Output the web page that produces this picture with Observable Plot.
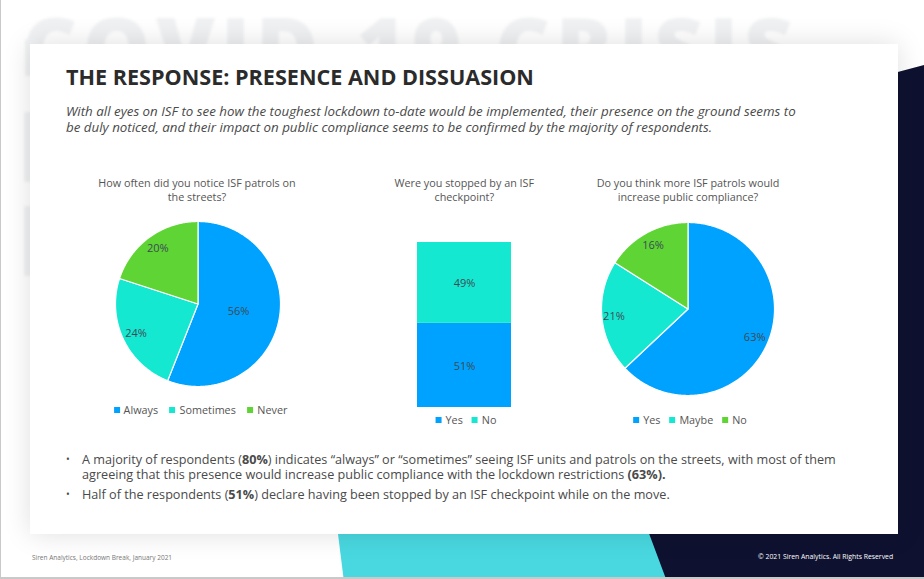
<!DOCTYPE html>
<html>
<head>
<meta charset="utf-8">
<script src="https://cdn.jsdelivr.net/npm/d3@7"></script>
<script src="https://cdn.jsdelivr.net/npm/@observablehq/plot@0.6"></script>
<style>
html,body{margin:0;padding:0;background:#fff;}
body{width:924px;height:579px;overflow:hidden;position:relative;font-family:"Open Sans",sans-serif;color:#444;}
.abs{position:absolute;white-space:nowrap;}
#frameL{left:0;top:0;width:1px;height:578px;background:#c9c9c9;}
#frameB{left:0;top:577px;width:924px;height:2px;background:#c9c9c9;}
#ghostclip{left:0;top:0;width:924px;height:44px;overflow:hidden;}
#ghost{left:22px;top:-12px;font-size:85px;font-weight:800;letter-spacing:5.6px;color:#f0f1f3;filter:blur(1.4px);}
.ghostbar{background:#f1f2f4;filter:blur(1.5px);}
#teal{left:0;top:0;width:924px;height:579px;background:#49d8e0;clip-path:polygon(333.8px 500px,650px 500px,666px 578px,343.5px 578px);}
#navy{left:0;top:0;width:924px;height:579px;background:#0e1230;clip-path:polygon(880px 76.8px,924px 65px,924px 579px,666px 579px,644px 520px,880px 520px);}
#card{left:30px;top:44px;width:868px;height:490px;background:#fff;box-shadow:0 0 26px rgba(0,0,0,.13);}
#title{left:66px;top:62px;font-size:21.6px;line-height:30px;font-weight:700;color:#2b2b2b;}
#sub{left:66px;top:102.5px;font-size:13.34px;line-height:16.8px;font-style:italic;color:#4a4a4a;}
.ctitle{font-size:10.8px;line-height:14px;color:#555;text-align:center;transform:translateX(-50%);}
.legend{font-size:10.8px;line-height:14px;color:#555;transform:translateX(-50%);display:flex;}
.legend span{display:flex;align-items:center;gap:4px;}
.legend i{display:inline-block;width:6px;height:6px;}
#bul{left:66px;top:451.7px;font-size:12.65px;line-height:15.8px;color:#4a4a4a;}
.li{position:relative;padding-left:16px;margin-bottom:3.5px;}
.li:before{content:"•";position:absolute;left:0;top:0;font-size:10px;}
#fl{left:32px;top:553px;font-size:6.5px;line-height:10px;color:#777;}
#fr{left:758px;top:552px;font-size:6.85px;line-height:10px;color:#fff;}
</style>
</head>
<body>
<div class="abs" id="frameL"></div>
<div class="abs" id="ghostclip"><div class="abs" id="ghost">COVID-19 CRISIS</div></div>
<div class="abs ghostbar" style="left:25px;top:40px;width:12px;height:36px"></div>
<div class="abs ghostbar" style="left:24px;top:112px;width:20px;height:70px"></div>
<div class="abs ghostbar" style="left:24px;top:206px;width:20px;height:70px"></div>
<div class="abs" id="teal"></div>
<div class="abs" id="navy"></div>
<div class="abs" id="frameB"></div>
<div class="abs" id="card"></div>
<div class="abs" id="title">THE RESPONSE: PRESENCE AND DISSUASION</div>
<div class="abs" id="sub">With all eyes on ISF to see how the toughest lockdown to-date would be implemented, their presence on the ground seems to<br>be duly noticed, and their impact on public compliance seems to be confirmed by the majority of respondents.</div>
<div class="abs ctitle" style="left:197px;top:176px">How often did you notice ISF patrols on<br>the streets?</div>
<div class="abs ctitle" style="left:464.3px;top:176px">Were you stopped by an ISF<br>checkpoint?</div>
<div class="abs ctitle" style="left:688px;top:176px">Do you think more ISF patrols would<br>increase public compliance?</div>
<div class="abs" id="bul">
<div class="li">A majority of respondents (<b>80%</b>) indicates “always” or “sometimes” seeing ISF units and patrols on the streets, with most of them<br>agreeing that this presence would increase public compliance with the lockdown restrictions <b>(63%).</b></div>
<div class="li">Half of the respondents (<b>51%</b>) declare having been stopped by an ISF checkpoint while on the move.</div>
</div>
<div class="abs" id="fl">Siren Analytics, Lockdown Break, January 2021</div>
<div class="abs" id="fr">© 2021 Siren Analytics. All Rights Reserved</div>
<script>
const BLUE = "#00a2ff", TEAL = "#15e8d0", GREEN = "#5fd535";

const patrolLabels = ["Always", "Sometimes", "Never"];
const patrolValues = [56, 24, 20];
const patrolColors = [BLUE, TEAL, GREEN];

const stoppedLabels = ["Yes", "No"];
const stoppedValues = [51, 49];
const stoppedColors = [BLUE, TEAL];

const moreLabels = ["Yes", "Maybe", "No"];
const moreValues = [63, 21, 16];
const moreColors = [BLUE, TEAL, GREEN];

const TEXT = "#3c4a55";
const FONT = '"Open Sans", sans-serif';

function place(svg, left, top) {
  svg.style.position = "absolute";
  svg.style.left = left + "px";
  svg.style.top = top + "px";
  svg.style.background = "transparent";
  svg.style.overflow = "visible";
  document.body.appendChild(svg);
}

function pie(labels, values, colors, cx, cy, r, labelRadii) {
  const pad = 4, size = 2 * (r + pad);
  const arcs = d3.pie().sort(null)(values);
  const outline = [];
  const text = [];
  arcs.forEach((a, i) => {
    outline.push({key: labels[i], u: 0, v: 0});
    const n = Math.ceil((a.endAngle - a.startAngle) * 90);
    for (let k = 0; k <= n; k++) {
      const t = a.startAngle + (a.endAngle - a.startAngle) * k / n;
      outline.push({key: labels[i], u: Math.sin(t), v: Math.cos(t)});
    }
    outline.push({key: labels[i], u: 0, v: 0});
    const m = (a.startAngle + a.endAngle) / 2;
    text.push({u: labelRadii[i] * Math.sin(m), v: labelRadii[i] * Math.cos(m), label: values[i] + "%"});
  });
  const svg = Plot.plot({
    width: size, height: size, margin: 0,
    x: {domain: [-1, 1], range: [pad, size - pad], axis: null},
    y: {domain: [-1, 1], range: [size - pad, pad], axis: null},
    color: {domain: labels, range: colors},
    style: {fontFamily: FONT, background: "transparent"},
    marks: [
      Plot.line(outline, {x: "u", y: "v", z: "key", fill: "key", stroke: "#fff", strokeWidth: 1.2, curve: "linear"}),
      Plot.text(text, {x: "u", y: "v", text: "label", fill: TEXT, fontSize: 11})
    ]
  });
  place(svg, cx - size / 2, cy - size / 2);
}

function legend(labels, colors, cx, top, gap) {
  const d = document.createElement("div");
  d.className = "abs legend";
  d.style.left = cx + "px";
  d.style.top = top + "px";
  d.style.gap = gap + "px";
  labels.forEach((l, i) => {
    const s = document.createElement("span");
    const m = document.createElement("i");
    m.style.background = colors[i];
    s.appendChild(m);
    s.appendChild(document.createTextNode(l));
    d.appendChild(s);
  });
  document.body.appendChild(d);
}

pie(patrolLabels, patrolValues, patrolColors, 197.3, 303.5, 82.5, [0.5, 0.83, 0.83]);
pie(moreLabels, moreValues, moreColors, 687.9, 308.6, 86.5, [0.84, 0.86, 0.84]);

const stopped = stoppedLabels.map((k, i) => ({key: k, value: stoppedValues[i], col: "all"}));
place(Plot.plot({
  width: 94, height: 165, margin: 0,
  x: {domain: ["all"], padding: 0, axis: null},
  y: {domain: [0, 100], axis: null},
  color: {domain: stoppedLabels, range: stoppedColors},
  style: {fontFamily: FONT, background: "transparent"},
  marks: [
    Plot.barY(stopped, Plot.stackY({x: "col", y: "value", fill: "key"})),
    Plot.text(stopped, Plot.stackY({x: "col", y: "value", text: d => d.value + "%", fill: TEXT, fontSize: 11, dy: 1}))
  ]
}), 417, 242);

legend(patrolLabels, patrolColors, 200.5, 403, 11.5);
legend(stoppedLabels, stoppedColors, 466, 413, 9);
legend(moreLabels, moreColors, 690, 413, 9);
</script>
</body>
</html>
